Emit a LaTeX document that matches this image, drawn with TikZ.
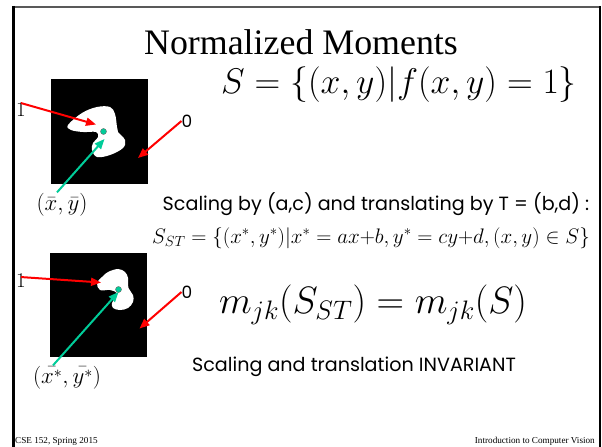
\documentclass[tikz,border=0pt]{standalone}
\usepackage{fix-cm}
\usepackage{fontspec}
\setmainfont{Liberation Serif}
\newfontfamily\handfont{Poppins}
\usetikzlibrary{arrows.meta}
\definecolor{centroid}{RGB}{0,204,153}

\begin{document}
\begin{tikzpicture}[
  x=1bp,y=-1bp,
  >={Triangle[length=10bp,width=8bp]},
  frame/.style={black,line width=2.4bp},
  blob/.style={fill=white,draw=none},
  ptr/.style={->,red,line width=2bp},
  cen/.style={->,centroid,line width=2bp},
  note/.style={font=\handfont\fontsize{19.2}{22}\selectfont},
  digit/.style={font=\handfont\fontsize{17}{18}\selectfont},
  foot/.style={font=\fontsize{9.2}{11}\selectfont,inner sep=0pt}
]
  \useasboundingbox (0,0) rectangle (602,447);

  % Slide frame: top rule and the two side rules.
  \draw[frame,gray!70!black,line width=2bp] (12,7) -- (601,7);
  \draw[frame,line width=3bp] (13.5,6) -- (13.5,447);
  \draw[frame,line width=2bp] (600,6) -- (600,447);

  \node[font=\fontsize{36}{40}\selectfont] (title) at (301,42) {Normalized Moments};
  \node[font=\fontsize{35.8}{38}\selectfont] (setS) at (399,85) {$S=\{(x,y)|f(x,y)=1\}$};

  % Original shape and its centroid.
  \fill (51,79) rectangle (148,184);
  \fill[blob] plot[smooth cycle,tension=0.6] coordinates {
    (68,125) (82,113) (97,107) (110,107) (115,114) (117,127) (118,132)
    (125,140) (123,148) (110,155) (97,157) (92,150) (93,143) (98,137)
    (96,132) (83,132) (71,130)};
  \fill[centroid,draw=black!60,line width=0.4bp] (103.5,131.5) circle (3bp);
  \coordinate (in1) at (96,124.5);
  \coordinate (out1) at (138,158);
  \coordinate (c1) at (104.5,139);

  \node[font=\fontsize{21}{22}\selectfont,inner sep=0pt] (one1) at (21,110) {$1$};
  \node[digit,inner sep=0pt] (zero1) at (187,121) {0};
  \node[font=\fontsize{23}{26}\selectfont,inner sep=1pt] (xbar1) at (62,205) {$(\bar{x},\bar{y})$};

  \draw[ptr] (one1.north) -- (in1);
  \draw[ptr] (zero1.west) -- (out1);
  \draw[cen] ([xshift=-5bp]xbar1.north) -- (c1);

  \node[note] (scl) at (376,204) {Scaling by (a,c) and translating by T = (b,d) :};
  \node[font=\fontsize{21.1}{24}\selectfont] (setST) at (371,238)
    {$S_{ST}=\{(x^*,y^*)|x^*=ax{+}b,y^*=cy{+}d,(x,y)\in S\}$};

  % Scaled and translated shape.
  \fill (50,253) rectangle (147,357);
  \fill[blob] plot[smooth cycle,tension=0.6] coordinates {
    (97,283) (102,277) (108,272) (118,269) (125,272) (128,278) (128.5,288)
    (133,295) (133,302) (128,308) (120,310) (113,308) (112,303) (115,298)
    (117,293) (110,290) (100,290)};
  \fill[centroid,draw=black!60,line width=0.4bp] (118.5,289.5) circle (3bp);
  \coordinate (in2) at (101,282.5);
  \coordinate (out2) at (139.5,328.5);
  \coordinate (c2) at (118.5,292);

  \node[font=\fontsize{21}{22}\selectfont,inner sep=0pt] (one2) at (21,281) {$1$};
  \node[digit,inner sep=0pt] (zero2) at (187,292) {0};
  \node[font=\fontsize{23}{26}\selectfont,inner sep=1pt] (xbar2) at (67,378) {$(\bar{x^*},\bar{y^*})$};

  \draw[ptr] ([yshift=-3bp]one2.north) -- (in2);
  \draw[ptr] (zero2.west) -- (out2);
  \draw[cen] ([xshift=-14bp]xbar2.north) -- (c2);

  \node[font=\fontsize{38.3}{42}\selectfont] (inv) at (373,305) {$m_{jk}(S_{ST})=m_{jk}(S)$};
  \node[note] (caption) at (354,367) {Scaling and translation INVARIANT};

  \node[foot,anchor=base west] (course) at (15,443) {CSE 152, Spring 2015};
  \node[foot,anchor=base east] (lecture) at (595,443) {Introduction to Computer Vision};
\end{tikzpicture}
\end{document}
